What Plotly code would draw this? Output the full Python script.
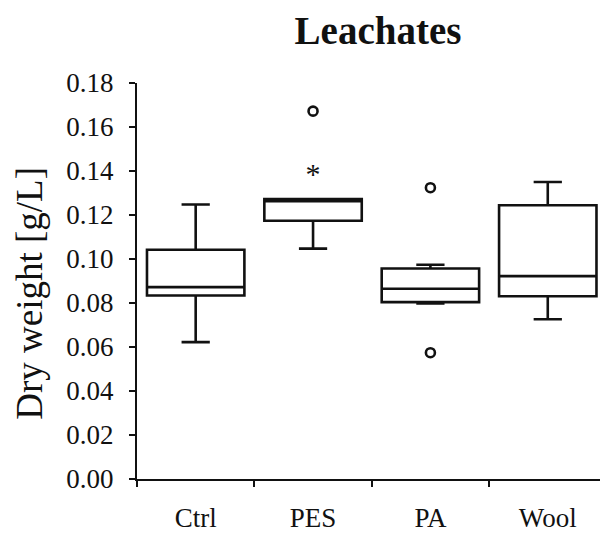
import plotly.graph_objects as go

categories = ["Ctrl", "PES", "PA", "Wool"]
q1 = [0.0834, 0.1174, 0.0804, 0.0831]
median = [0.0872, 0.1263, 0.0865, 0.0922]
q3 = [0.1042, 0.1272, 0.0957, 0.1244]
lowerfence = [0.0622, 0.1047, 0.0798, 0.0726]
upperfence = [0.1248, 0.1272, 0.0974, 0.1350]

outlier_x = ["PES", "PA", "PA"]
outlier_y = [0.1672, 0.1324, 0.0574]

star_x = ["PES"]
star_y = [0.1375]

yticks = [0.00, 0.02, 0.04, 0.06, 0.08, 0.10, 0.12, 0.14, 0.16, 0.18]

FONT = "Liberation Serif, Times New Roman, serif"
INK = "#111111"

fig = go.Figure()
fig.add_trace(go.Box(
    x=categories, q1=q1, median=median, q3=q3,
    lowerfence=lowerfence, upperfence=upperfence,
    boxpoints=False, width=0.83, whiskerwidth=0.29,
    fillcolor="rgba(0,0,0,0)", line=dict(color=INK, width=2.6),
    showlegend=False, hoverinfo="skip",
))
fig.add_trace(go.Scatter(
    x=outlier_x, y=outlier_y, mode="markers",
    marker=dict(symbol="circle-open", size=9, color=INK, line=dict(width=2.6, color=INK)),
    showlegend=False, hoverinfo="skip",
))
fig.add_trace(go.Scatter(
    x=star_x, y=star_y, mode="text", text=["*"], textposition="middle center",
    textfont=dict(family=FONT, size=30, color=INK),
    showlegend=False, hoverinfo="skip",
))

fig.update_layout(
    width=600, height=533,
    margin=dict(l=137, r=0, t=83, b=48),
    paper_bgcolor="white", plot_bgcolor="white",
    font=dict(family=FONT, size=27, color=INK),
    title=dict(text="<b>Leachates</b>", x=0.63, xref="container", xanchor="center",
               y=1 - 30 / 533, yref="container", yanchor="middle",
               font=dict(family=FONT, size=39, color=INK)),
    xaxis=dict(
        type="category", categoryorder="array", categoryarray=categories,
        range=[-0.5, 3.445], tickson="boundaries",
        showline=True, linecolor=INK, linewidth=2, mirror=False,
        ticks="outside", ticklen=6, tickwidth=2, tickcolor=INK,
        showgrid=False, zeroline=False, ticklabelstandoff=14,
        tickfont=dict(family=FONT, size=27, color=INK),
    ),
    yaxis=dict(
        range=[0, 0.18], tickvals=yticks, ticktext=[f"{v:.2f}" for v in yticks],
        showline=True, linecolor=INK, linewidth=2,
        ticks="outside", ticklen=6, tickwidth=2, tickcolor=INK,
        showgrid=False, zeroline=False, ticklabelstandoff=10,
        tickfont=dict(family=FONT, size=27, color=INK),
    ),
    annotations=[dict(
        text="Dry weight [g/L]", textangle=-90, showarrow=False,
        xref="paper", yref="paper", x=-(137 - 30) / 463, y=(485 - 297) / 402,
        xanchor="center", yanchor="middle",
        font=dict(family=FONT, size=37, color=INK),
    )],
)

fig.write_html("out.html")
